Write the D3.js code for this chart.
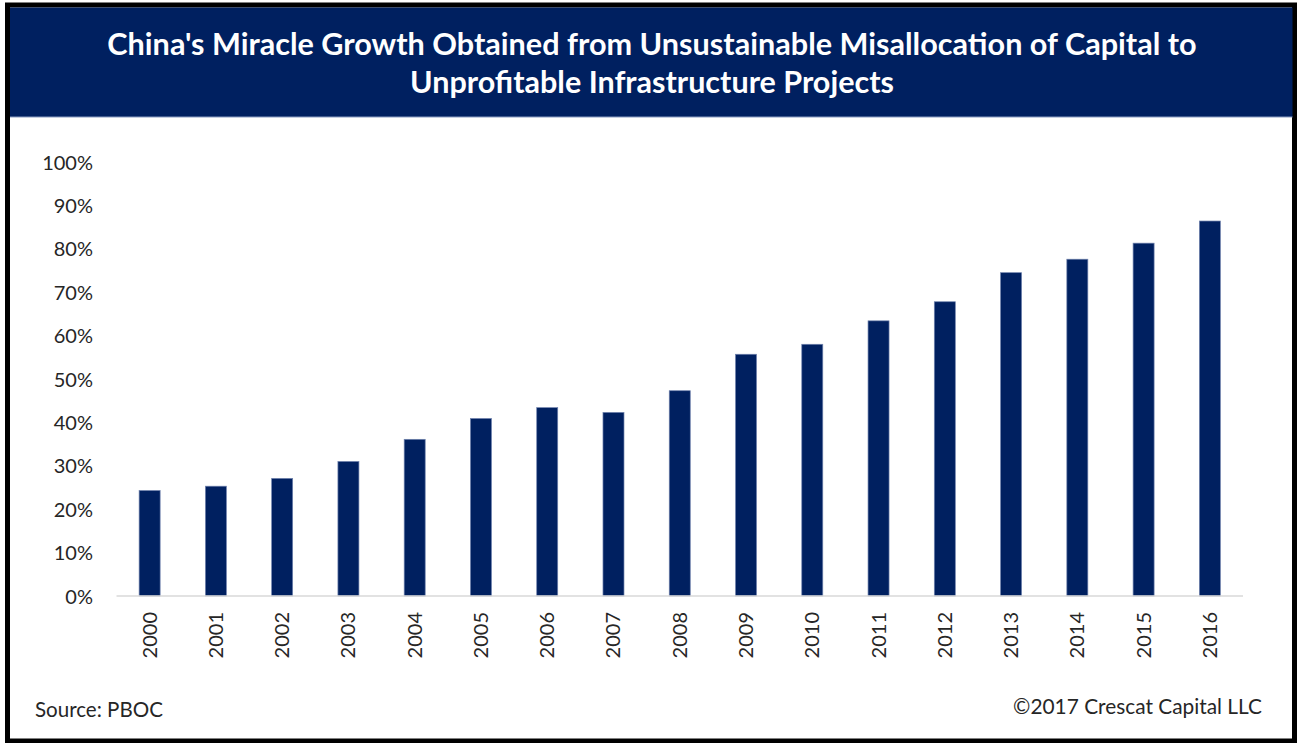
<!DOCTYPE html>
<html>
<head>
<meta charset="utf-8">
<script src="https://cdn.jsdelivr.net/npm/d3@7"></script>
<style>
  html, body { margin: 0; padding: 0; background: #ffffff; }
  svg { display: block; }
</style>
</head>
<body>
<svg id="chart" width="1297" height="743"></svg>
<script>
// Share of capital allocation, by year (PBOC)
const years = ["2000","2001","2002","2003","2004","2005","2006","2007","2008",
               "2009","2010","2011","2012","2013","2014","2015","2016"];
const shares = [0.243, 0.253, 0.271, 0.310, 0.361, 0.409, 0.434, 0.423, 0.473,
                0.557, 0.580, 0.634, 0.678, 0.745, 0.776, 0.813, 0.864];
const yTicks = [0, 0.1, 0.2, 0.3, 0.4, 0.5, 0.6, 0.7, 0.8, 0.9, 1.0];
const titleLines = [
  "China's Miracle Growth Obtained from Unsustainable Misallocation of Capital to",
  "Unprofitable Infrastructure Projects"
];
const sourceNote = "Source: PBOC";
const copyrightNote = "\u00A92017 Crescat Capital LLC";

const W = 1297, H = 743;
const navy = "#002060";
const font = "Lato, 'Open Sans', sans-serif";
const svg = d3.select("#chart");

// Outer frame
svg.append("rect").attr("x", 0).attr("y", 0).attr("width", W).attr("height", H).attr("fill", "#ffffff");
svg.append("rect")
  .attr("x", 7.5).attr("y", 5).attr("width", 1287).attr("height", 736)
  .attr("fill", "#ffffff").attr("stroke", "#000000").attr("stroke-width", 5);

// Header band
svg.append("rect").attr("x", 10).attr("y", 7.5).attr("width", 1282.5).attr("height", 109.5).attr("fill", navy);
svg.append("line").attr("x1", 10).attr("x2", 1292.5).attr("y1", 117).attr("y2", 117)
  .attr("stroke", "#8a9cc2").attr("stroke-width", 1);

// Fit a text element's font size so that its rendered width equals target
function fitWidth(sel, target) {
  const base = 20;
  sel.attr("font-size", base);
  const len = sel.node().getComputedTextLength();
  sel.attr("font-size", base * target / len);
  return sel;
}

const titleSpecs = [
  { text: titleLines[0], y: 55, width: 1090 },
  { text: titleLines[1], y: 93, width: 484 }
];
titleSpecs.forEach(t => {
  const el = svg.append("text")
    .attr("x", 652).attr("y", t.y)
    .attr("text-anchor", "middle")
    .attr("font-family", font).attr("font-weight", 700)
    .attr("fill", "#ffffff")
    .text(t.text);
  fitWidth(el, t.width);
});

// Plot area
const x = d3.scaleBand().domain(years).range([116.5, 1243]).paddingInner(0.683).paddingOuter(0.3415);
const y = d3.scaleLinear().domain([0, 1]).range([596, 162]);

// Y axis labels
const yAxis = d3.axisLeft(y).tickValues(yTicks).tickFormat(d3.format(".0%")).tickSize(0).tickPadding(0);
const gy = svg.append("g").attr("transform", "translate(93,0)").call(yAxis);
gy.select(".domain").remove();
gy.selectAll("text")
  .attr("font-family", font).attr("font-size", 20)
  .attr("fill", "#262626").attr("dy", "0.35em");

// Bars
svg.append("g").selectAll("rect")
  .data(years.map((yr, i) => ({ yr, v: shares[i] })))
  .join("rect")
  .attr("x", d => x(d.yr))
  .attr("width", x.bandwidth())
  .attr("y", d => y(d.v))
  .attr("height", d => y(0) - y(d.v))
  .attr("fill", navy)
  .attr("stroke", "#6f82ad").attr("stroke-width", 0.7);

// Baseline and category labels
const xAxis = d3.axisBottom(x).tickSize(0).tickPadding(0);
const gx = svg.append("g").attr("transform", `translate(0,${y(0)})`).call(xAxis);
gx.select(".domain").attr("stroke", "#d9d9d9").attr("stroke-width", 1.5)
  .attr("d", `M${x.range()[0]},0H${x.range()[1]}`);
gx.selectAll("text")
  .attr("font-family", font).attr("font-size", 20).attr("fill", "#262626")
  .attr("text-anchor", "end")
  .attr("transform", "rotate(-90)")
  .attr("x", -16).attr("y", 0).attr("dy", "0.35em");

// Footer notes
const src = svg.append("text").attr("x", 35).attr("y", 717)
  .attr("font-family", font).attr("fill", "#262626").text(sourceNote);
fitWidth(src, 128);
const cr = svg.append("text").attr("x", 1262).attr("y", 714)
  .attr("text-anchor", "end")
  .attr("font-family", font).attr("fill", "#262626").text(copyrightNote);
fitWidth(cr, 249);
</script>
</body>
</html>
